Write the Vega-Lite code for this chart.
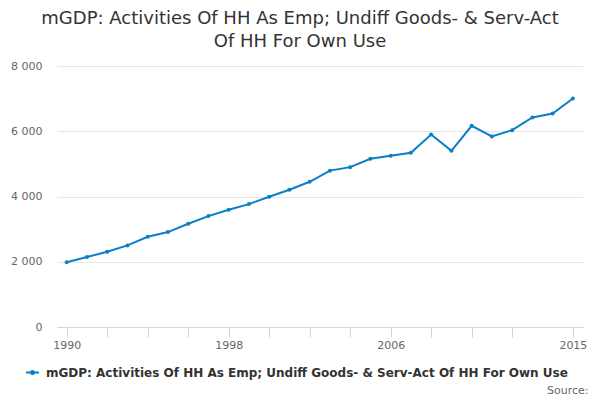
{
  "$schema": "https://vega.github.io/schema/vega-lite/v6.json",
  "background": "white",
  "autosize": "none",
  "padding": {"left": 57, "top": 66, "right": 17, "bottom": 73},
  "width": 526,
  "height": 261,
  "config": {
    "font": "DejaVu Sans",
    "view": {"stroke": null}
  },
  "title": {
    "text": ["mGDP: Activities Of HH As Emp; Undiff Goods- & Serv-Act", "Of HH For Own Use"],
    "fontSize": 18,
    "fontWeight": "normal",
    "color": "#333333",
    "anchor": "middle",
    "dx": -20,
    "offset": 9,
    "lineHeight": 23
  },
  "data": {
    "values": [
      {"year": 1990, "value": 1985, "series": "mGDP: Activities Of HH As Emp; Undiff Goods- & Serv-Act Of HH For Own Use"},
      {"year": 1991, "value": 2144, "series": "mGDP: Activities Of HH As Emp; Undiff Goods- & Serv-Act Of HH For Own Use"},
      {"year": 1992, "value": 2307, "series": "mGDP: Activities Of HH As Emp; Undiff Goods- & Serv-Act Of HH For Own Use"},
      {"year": 1993, "value": 2501, "series": "mGDP: Activities Of HH As Emp; Undiff Goods- & Serv-Act Of HH For Own Use"},
      {"year": 1994, "value": 2767, "series": "mGDP: Activities Of HH As Emp; Undiff Goods- & Serv-Act Of HH For Own Use"},
      {"year": 1995, "value": 2910, "series": "mGDP: Activities Of HH As Emp; Undiff Goods- & Serv-Act Of HH For Own Use"},
      {"year": 1996, "value": 3165, "series": "mGDP: Activities Of HH As Emp; Undiff Goods- & Serv-Act Of HH For Own Use"},
      {"year": 1997, "value": 3400, "series": "mGDP: Activities Of HH As Emp; Undiff Goods- & Serv-Act Of HH For Own Use"},
      {"year": 1998, "value": 3594, "series": "mGDP: Activities Of HH As Emp; Undiff Goods- & Serv-Act Of HH For Own Use"},
      {"year": 1999, "value": 3767, "series": "mGDP: Activities Of HH As Emp; Undiff Goods- & Serv-Act Of HH For Own Use"},
      {"year": 2000, "value": 3992, "series": "mGDP: Activities Of HH As Emp; Undiff Goods- & Serv-Act Of HH For Own Use"},
      {"year": 2001, "value": 4206, "series": "mGDP: Activities Of HH As Emp; Undiff Goods- & Serv-Act Of HH For Own Use"},
      {"year": 2002, "value": 4451, "series": "mGDP: Activities Of HH As Emp; Undiff Goods- & Serv-Act Of HH For Own Use"},
      {"year": 2003, "value": 4793, "series": "mGDP: Activities Of HH As Emp; Undiff Goods- & Serv-Act Of HH For Own Use"},
      {"year": 2004, "value": 4900, "series": "mGDP: Activities Of HH As Emp; Undiff Goods- & Serv-Act Of HH For Own Use"},
      {"year": 2005, "value": 5156, "series": "mGDP: Activities Of HH As Emp; Undiff Goods- & Serv-Act Of HH For Own Use"},
      {"year": 2006, "value": 5248, "series": "mGDP: Activities Of HH As Emp; Undiff Goods- & Serv-Act Of HH For Own Use"},
      {"year": 2007, "value": 5340, "series": "mGDP: Activities Of HH As Emp; Undiff Goods- & Serv-Act Of HH For Own Use"},
      {"year": 2008, "value": 5900, "series": "mGDP: Activities Of HH As Emp; Undiff Goods- & Serv-Act Of HH For Own Use"},
      {"year": 2009, "value": 5401, "series": "mGDP: Activities Of HH As Emp; Undiff Goods- & Serv-Act Of HH For Own Use"},
      {"year": 2010, "value": 6167, "series": "mGDP: Activities Of HH As Emp; Undiff Goods- & Serv-Act Of HH For Own Use"},
      {"year": 2011, "value": 5840, "series": "mGDP: Activities Of HH As Emp; Undiff Goods- & Serv-Act Of HH For Own Use"},
      {"year": 2012, "value": 6034, "series": "mGDP: Activities Of HH As Emp; Undiff Goods- & Serv-Act Of HH For Own Use"},
      {"year": 2013, "value": 6422, "series": "mGDP: Activities Of HH As Emp; Undiff Goods- & Serv-Act Of HH For Own Use"},
      {"year": 2014, "value": 6544, "series": "mGDP: Activities Of HH As Emp; Undiff Goods- & Serv-Act Of HH For Own Use"},
      {"year": 2015, "value": 7004, "series": "mGDP: Activities Of HH As Emp; Undiff Goods- & Serv-Act Of HH For Own Use"}
    ]
  },
  "mark": {
    "type": "line",
    "strokeWidth": 2,
    "point": {"size": 16, "filled": true}
  },
  "encoding": {
    "x": {
      "field": "year",
      "type": "quantitative",
      "scale": {"domain": [1989.52, 2015.5], "nice": false, "zero": false},
      "axis": {
        "values": [1990, 1992, 1994, 1996, 1998, 2000, 2002, 2004, 2006, 2008, 2010, 2012, 2015],
        "labelExpr": "(datum.value == 1990 || datum.value == 1998 || datum.value == 2006 || datum.value == 2015) ? toString(datum.value) : ''",
        "grid": false,
        "domainColor": "#ccd6eb",
        "tickColor": "#ccd6eb",
        "tickSize": 10,
        "labelColor": "#666666",
        "labelFontSize": 11,
        "labelPadding": 2,
        "labelOverlap": false,
        "labelFlush": false,
        "title": "Source:",
        "titleColor": "#666666",
        "titleFontSize": 11,
        "titleFontWeight": "normal",
        "titleAlign": "right",
        "titleAnchor": null,
        "titleX": 531,
        "titleY": 66,
        "titleBaseline": "alphabetic"
      }
    },
    "y": {
      "field": "value",
      "type": "quantitative",
      "scale": {"domain": [0, 8000], "nice": false},
      "axis": {
        "values": [0, 2000, 4000, 6000, 8000],
        "labelExpr": "replace(format(datum.value, ','), ',', ' ')",
        "domain": false,
        "ticks": false,
        "gridColor": "#e6e6e6",
        "labelColor": "#666666",
        "labelFontSize": 11,
        "labelPadding": 15,
        "title": null
      }
    },
    "color": {
      "field": "series",
      "type": "nominal",
      "scale": {"range": ["#0a7fc7"]},
      "legend": {
        "title": null,
        "orient": "none",
        "legendX": -32,
        "legendY": 299,
        "symbolType": "M-1,0H1M-0.25,0a0.25,0.25 0 1,0 0.5,0a0.25,0.25 0 1,0 -0.5,0",
        "symbolSize": 169,
        "symbolStrokeWidth": 2,
        "symbolFillColor": "#0a7fc7",
        "symbolStrokeColor": "#0a7fc7",
        "labelFontSize": 12,
        "labelFontWeight": "bold",
        "labelColor": "#333333",
        "labelLimit": 0,
        "labelOffset": 6
      }
    }
  }
}
